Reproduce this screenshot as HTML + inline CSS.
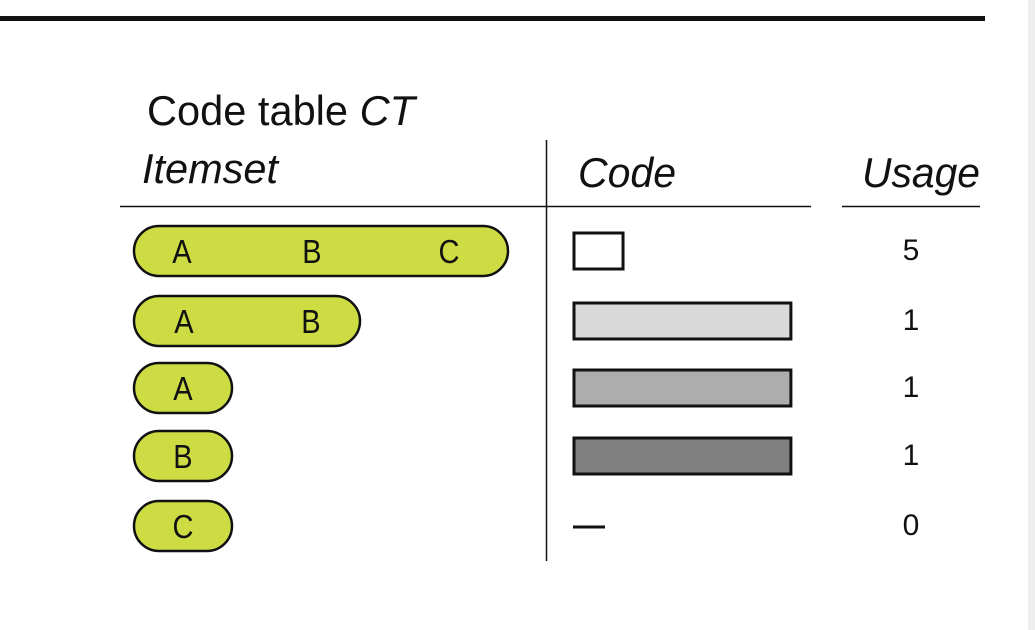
<!DOCTYPE html>
<html><head><meta charset="utf-8"><style>
body{margin:0;width:1035px;height:630px;background:#fff;overflow:hidden;position:relative;font-family:"Liberation Sans",sans-serif}
</style></head><body>
<div style="position:absolute;left:1028px;top:0;width:7px;height:630px;background:#eee"></div>
<svg id="ct" width="1035" height="630" style="position:absolute;left:0;top:0">
<rect x="0" y="16" width="985" height="5" fill="#111"/>
<text x="147" y="125" font-size="42" fill="#111" textLength="268" lengthAdjust="spacingAndGlyphs">Code table <tspan font-style="italic">CT</tspan></text>
<text x="142" y="183" font-size="42" font-style="italic" fill="#111" textLength="136" lengthAdjust="spacingAndGlyphs">Itemset</text>
<text x="578" y="187" font-size="42" font-style="italic" fill="#111" textLength="98" lengthAdjust="spacingAndGlyphs">Code</text>
<text x="862" y="187" font-size="42" font-style="italic" fill="#111" textLength="118" lengthAdjust="spacingAndGlyphs">Usage</text>
<line x1="120" y1="206.5" x2="811" y2="206.5" stroke="#111" stroke-width="1.5"/>
<line x1="842" y1="206.5" x2="980" y2="206.5" stroke="#111" stroke-width="1.5"/>
<line x1="546.5" y1="140" x2="546.5" y2="561" stroke="#111" stroke-width="1.5"/>
<g id="rows"></g>
</svg>
<script>
const itemsets=[["A","B","C"],["A","B"],["A"],["B"],["C"]];
const usages=[5,1,1,1,0];
const codeFills=["#fff","#d9d9d9","#adadad","#808080","none"];
const NS="http://www.w3.org/2000/svg";
const g=document.getElementById("rows");
const total=usages.reduce((a,b)=>a+b,0);
const pxPerBit=72.3;
const rowY=[251,321,388,456,526];
const pillW=[374,226,98,98,98];
function mk(t,a){const e=document.createElementNS(NS,t);for(const k in a)e.setAttribute(k,a[k]);g.appendChild(e);return e;}
itemsets.forEach((items,i)=>{
  const cy=rowY[i];
  const x0=134;
  const w=pillW[i];
  const p=mk("rect",{x:x0,y:cy-25,width:w,height:50,rx:25,fill:"#cddc43",stroke:"#111","stroke-width":2.5});
  
  
  const xs=items.length===1?[x0+w/2]:items.length===2?[x0+50,x0+177]:[x0+48,x0+178,x0+315];
  items.forEach((it,j)=>{
    const t=mk("text",{x:xs[j],y:cy+12,"font-size":33,"text-anchor":"middle",fill:"#111",transform:`translate(${xs[j]},0) scale(0.88,1) translate(${-xs[j]},0)`});
    t.textContent=it;
    
    
  });
  const u=usages[i];
  if(u>0){
    const bits=-Math.log2(u/total);
    const r=mk("rect",{x:574,y:cy-18,width:bits*pxPerBit,height:36,fill:codeFills[i],stroke:"#111","stroke-width":3});
    
    
  } else {
    const l=mk("line",{x1:573,y1:cy+1,x2:605,y2:cy+1,stroke:"#111","stroke-width":3});
    
    
  }
  const ut=mk("text",{x:911,y:cy+9,"font-size":30,"text-anchor":"middle",fill:"#111"});
  ut.textContent=u;
  
  
});
</script>
</body></html>
